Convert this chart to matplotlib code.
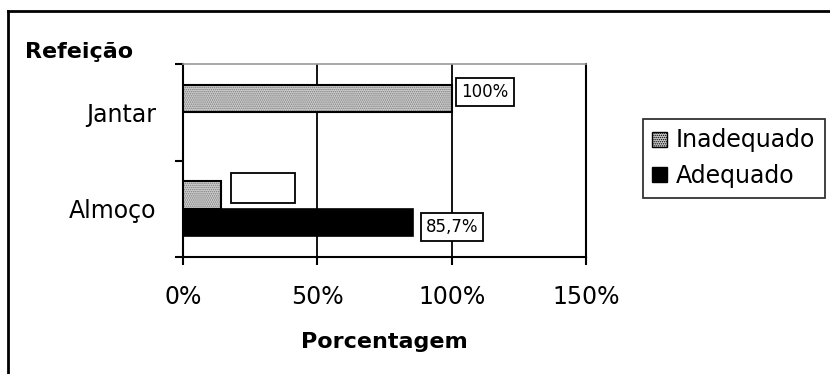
import matplotlib
matplotlib.use("Agg")
import matplotlib.pyplot as plt
from matplotlib.lines import Line2D
from matplotlib.patches import Patch

plt.rcParams['font.family'] = ['DejaVu Sans']
plt.rcParams['hatch.linewidth'] = 0.7

categories = ["Almoço", "Jantar"]
series_names = ["Inadequado", "Adequado"]
inadequado = [14.3, 100.0]
adequado = [85.7, 0.0]
label_inad = ["14,3%", "100%"]
label_adeq = ["85,7%", ""]
xticks = [0, 50, 100, 150]
xticklabels = ["0%", "50%", "100%", "150%"]

W, H = 830, 374
fig = plt.figure(figsize=(W / 100, H / 100), dpi=100)
ax = fig.add_axes([183 / W, 1 - 257 / H, (586 - 183) / W, (257 - 64) / H])

centers = [0.5, 1.5]
bh = 0.285
stip_face = "#cdcdcd"
stip_hatch = "#7a7a7a"
for i, c in enumerate(centers):
    if inadequado[i] > 0:
        ax.barh(c + bh / 2, inadequado[i], height=bh, color=stip_face,
                hatch="........", edgecolor=stip_hatch, linewidth=0, zorder=3)
        ax.barh(c + bh / 2, inadequado[i], height=bh, fill=False,
                edgecolor="black", linewidth=1.5, zorder=4)
    if adequado[i] > 0:
        ax.barh(c - bh / 2, adequado[i], height=bh, color="black",
                edgecolor="black", linewidth=1.2, zorder=3)

bbox_kw = dict(boxstyle="square,pad=0.3", fc="white", ec="black", lw=1.3)
ax.annotate(label_inad[1], xy=(inadequado[1], centers[1] + bh / 2), xytext=(7, 5),
            textcoords="offset points", ha="left", va="center", fontsize=12,
            bbox=bbox_kw, zorder=5)
ax.annotate(label_adeq[0], xy=(adequado[0], centers[0] - bh / 2), xytext=(9, -3),
            textcoords="offset points", ha="left", va="center", fontsize=12,
            bbox=bbox_kw, zorder=5)
ax.annotate(label_inad[0], xy=(inadequado[0], centers[0] + bh / 2), xytext=(11, 5),
            textcoords="offset points", ha="left", va="center", fontsize=12,
            color="white", bbox=dict(boxstyle="square,pad=0.35", fc="white", ec="black", lw=1.3),
            zorder=5)

ax.set_xlim(0, 150)
ax.set_ylim(0, 2)
ax.set_xticks(xticks)
ax.set_xticklabels(xticklabels, fontsize=17)
ax.tick_params(axis="x", direction="out", length=6, width=1.5, pad=14)
ax.set_yticks([0, 1, 2])
ax.set_yticklabels([])
ax.set_yticks(centers, minor=True)
ax.set_yticklabels(categories, minor=True, fontsize=17)
ax.tick_params(axis="y", which="major", direction="out", length=6, width=1.5)
ax.tick_params(axis="y", which="minor", length=0, pad=19)

for x in [50, 100, 150]:
    ax.axvline(x, color="black", lw=1.3, zorder=1)

ax.spines["left"].set_linewidth(1.5)
ax.spines["bottom"].set_linewidth(1.5)
ax.spines["top"].set_color("#999999")
ax.spines["top"].set_linewidth(1.2)
ax.spines["right"].set_color("black")
ax.spines["right"].set_linewidth(1.5)

ax.set_xlabel("Porcentagem", fontsize=16, fontweight="bold", labelpad=17)
fig.text(25 / W, 1 - 58 / H, "Refeição", fontsize=16, fontweight="bold",
         ha="left", va="baseline")

handles = [Patch(facecolor=stip_face, hatch="........", edgecolor="black", lw=1),
           Patch(facecolor="black", edgecolor="black", lw=1)]
leg = fig.legend(handles, series_names, loc="upper left",
                 bbox_to_anchor=(643 / W, 1 - 119 / H), fontsize=17,
                 frameon=True, fancybox=False, edgecolor="black",
                 handlelength=0.6, handleheight=0.6, handletextpad=0.4,
                 borderpad=0.4, labelspacing=0.5, borderaxespad=0)
leg.get_frame().set_linewidth(1.3)

fig.add_artist(Line2D([8 / W, 1], [1 - 10.5 / H, 1 - 10.5 / H], transform=fig.transFigure,
                      color="black", lw=2))
fig.add_artist(Line2D([8 / W, 8 / W], [0, 1 - 10.5 / H], transform=fig.transFigure,
                      color="black", lw=2))

fig.savefig("out.png", dpi=100)
